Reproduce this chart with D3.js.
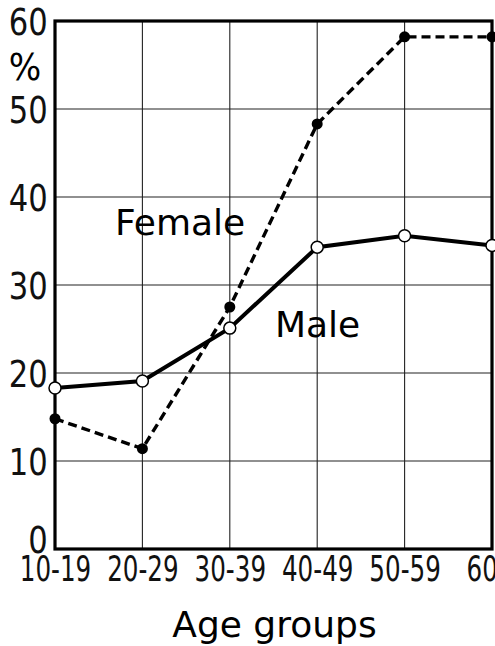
<!DOCTYPE html>
<html>
<head>
<meta charset="utf-8">
<script src="https://cdnjs.cloudflare.com/ajax/libs/d3/7.8.5/d3.min.js"></script>
<style>
  body { margin: 0; background: #fff; overflow: hidden; }
</style>
</head>
<body>
<div id="chart"></div>
<script>
var ageGroups = ["10-19", "20-29", "30-39", "40-49", "50-59", "60+"];
var male = [18.3, 19.1, 25.1, 34.3, 35.6, 34.5];
var female = [14.8, 11.4, 27.5, 48.3, 58.2, 58.2];
var yTicks = [0, 10, 20, 30, 40, 50, 60];

var margin = { top: 21, right: 3, bottom: 97, left: 55 };
var W = 495, H = 646;
var width = W - margin.left - margin.right;
var height = H - margin.top - margin.bottom;

var svg = d3.select("#chart").append("svg")
  .attr("width", W)
  .attr("height", H)
  .append("g")
  .attr("transform", "translate(" + margin.left + "," + margin.top + ")");

var x = d3.scalePoint().domain(ageGroups).range([0, width]);
var y = d3.scaleLinear().domain([0, 60]).range([height, 0]);

// grid
svg.append("g")
  .selectAll("line")
  .data(yTicks)
  .enter().append("line")
  .attr("x1", 0).attr("x2", width)
  .attr("y1", function (d) { return y(d); })
  .attr("y2", function (d) { return y(d); })
  .attr("stroke", "#222").attr("stroke-width", 1.1);

svg.append("g")
  .selectAll("line")
  .data(ageGroups)
  .enter().append("line")
  .attr("x1", function (d) { return x(d); })
  .attr("x2", function (d) { return x(d); })
  .attr("y1", 0).attr("y2", height)
  .attr("stroke", "#222").attr("stroke-width", 1.1);

// frame
svg.append("rect")
  .attr("x", 0).attr("y", 0)
  .attr("width", width).attr("height", height)
  .attr("fill", "none")
  .attr("stroke", "#000")
  .attr("stroke-width", 3.2);

// axes (labels only)
var yAxis = svg.append("g")
  .call(d3.axisLeft(y).tickValues(yTicks).tickSize(0).tickPadding(8));
yAxis.select(".domain").remove();
yAxis.selectAll("text")
  .style("font-family", "'DejaVu Sans Condensed', sans-serif")
  .style("font-size", "37px")
  .attr("fill", "#111")
  .attr("dy", function (d) { return d === 0 ? "0.1em" : "0.36em"; })
  .attr("transform", "scale(0.92,1)");

var xAxis = svg.append("g")
  .attr("transform", "translate(0," + height + ")")
  .call(d3.axisBottom(x).tickSize(0).tickPadding(6));
xAxis.select(".domain").remove();
xAxis.selectAll("text")
  .style("font-family", "'DejaVu Sans Condensed', sans-serif")
  .style("font-size", "36px")
  .attr("fill", "#111")
  .attr("transform", "scale(0.76,1)");

svg.append("text")
  .attr("x", -30).attr("y", 59)
  .attr("text-anchor", "middle")
  .style("font-family", "'DejaVu Sans Condensed', sans-serif")
  .style("font-size", "38px")
  .text("%");

svg.append("text")
  .attr("x", width / 2 + 1)
  .attr("y", height + 88)
  .attr("text-anchor", "middle")
  .style("font-family", "'DejaVu Sans', sans-serif")
  .style("font-size", "36px")
  .text("Age groups");

// lines
var line = d3.line()
  .x(function (d, i) { return x(ageGroups[i]); })
  .y(function (d) { return y(d); });

svg.append("path")
  .datum(female)
  .attr("d", line)
  .attr("fill", "none")
  .attr("stroke", "#000")
  .attr("stroke-width", 3.4)
  .attr("stroke-dasharray", "9,5");

svg.append("path")
  .datum(male)
  .attr("d", line)
  .attr("fill", "none")
  .attr("stroke", "#000")
  .attr("stroke-width", 4);

svg.selectAll(".fdot")
  .data(female)
  .enter().append("circle")
  .attr("cx", function (d, i) { return x(ageGroups[i]); })
  .attr("cy", function (d) { return y(d); })
  .attr("r", 5.5)
  .attr("fill", "#000");

svg.selectAll(".mdot")
  .data(male)
  .enter().append("circle")
  .attr("cx", function (d, i) { return x(ageGroups[i]); })
  .attr("cy", function (d) { return y(d); })
  .attr("r", 6)
  .attr("fill", "#fff")
  .attr("stroke", "#000")
  .attr("stroke-width", 1.5);

// series labels
svg.append("text")
  .attr("x", 60).attr("y", 214)
  .style("font-family", "'DejaVu Sans', sans-serif")
  .style("font-size", "36px")
  .text("Female");

svg.append("text")
  .attr("x", 220).attr("y", 316)
  .style("font-family", "'DejaVu Sans', sans-serif")
  .style("font-size", "36px")
  .text("Male");
</script>
</body>
</html>
